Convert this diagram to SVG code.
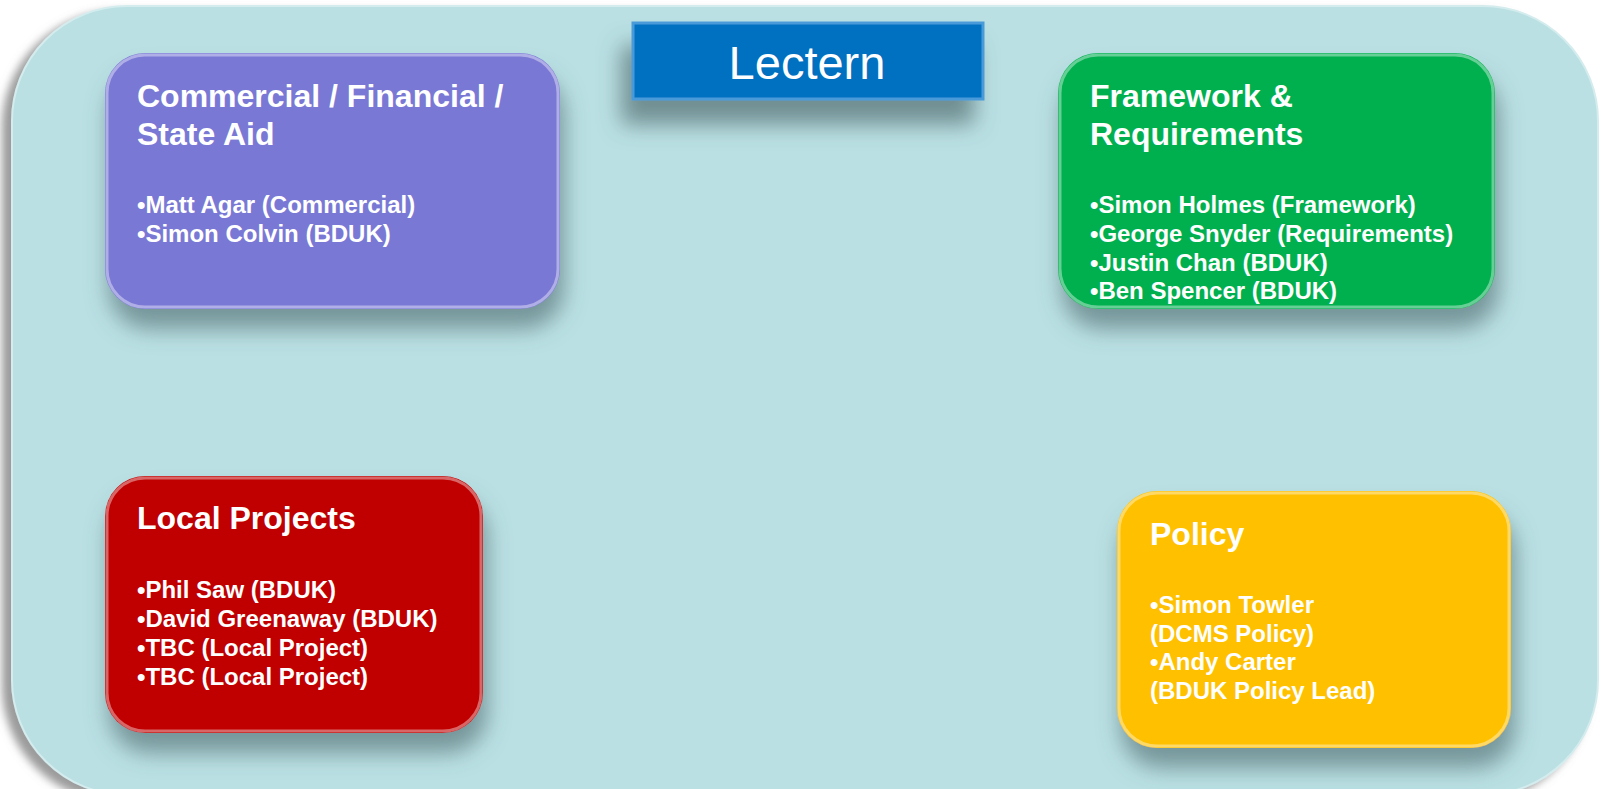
<svg xmlns="http://www.w3.org/2000/svg" width="1601" height="789" viewBox="0 0 1601 789">
<defs>
<style>
.t{font-family:"Liberation Sans",Arial,sans-serif;font-weight:bold;fill:#fff}
.h{font-size:32px}
.b{font-size:24px}
.edge{fill:none;stroke:#fff;stroke-opacity:.4;stroke-width:3}
</style>
<filter id="bgsh" x="-5%" y="-5%" width="110%" height="115%">
<feDropShadow dx="-9" dy="6" stdDeviation="4" flood-color="#8a8a8a" flood-opacity="0.85"/>
</filter>
<filter id="sh" x="-20%" y="-20%" width="145%" height="160%">
<feDropShadow dx="4" dy="20" stdDeviation="11" flood-color="#46656a" flood-opacity="0.6"/>
</filter>
<filter id="lsh" filterUnits="userSpaceOnUse" x="560" y="0" width="480" height="200">
<feDropShadow dx="-10" dy="24" stdDeviation="11" flood-color="#4a6468" flood-opacity="0.65"/>
</filter>
</defs>
<rect x="12" y="6" width="1586" height="789" rx="115" fill="#BAE0E3" stroke="#d4ecee" stroke-width="2" filter="url(#bgsh)"/>
<g id="connectors"/>
<g id="lectern">
<rect x="633" y="23" width="350" height="76" fill="#0070C0" stroke="#4a9ad8" stroke-width="3" filter="url(#lsh)"/>
<text x="807" y="79" text-anchor="middle" style="font-family:'Liberation Sans',Arial,sans-serif;font-size:47px;fill:#fff">Lectern</text>
</g>
<g id="commercial">
<rect x="105" y="53" width="455" height="256" rx="40" fill="#7A78D5" filter="url(#sh)"/>
<rect x="107" y="55" width="451" height="252" rx="38" class="edge"/>
<text class="t h" x="137" y="107">Commercial / Financial /</text>
<text class="t h" x="137" y="145">State Aid</text>
<text class="t b" x="137" y="213">•Matt Agar (Commercial)</text>
<text class="t b" x="137" y="242">•Simon Colvin (BDUK)</text>
</g>
<g id="framework">
<rect x="1058" y="53" width="437" height="256" rx="40" fill="#00B050" filter="url(#sh)"/>
<rect x="1060" y="55" width="433" height="252" rx="38" class="edge"/>
<text class="t h" x="1090" y="107">Framework &amp;</text>
<text class="t h" x="1090" y="145">Requirements</text>
<text class="t b" x="1090" y="213">•Simon Holmes (Framework)</text>
<text class="t b" x="1090" y="242">•George Snyder (Requirements)</text>
<text class="t b" x="1090" y="271">•Justin Chan (BDUK)</text>
<text class="t b" x="1090" y="299">•Ben Spencer (BDUK)</text>
</g>
<g id="local">
<rect x="105" y="476" width="378" height="257" rx="40" fill="#C00000" filter="url(#sh)"/>
<rect x="107" y="478" width="374" height="253" rx="38" class="edge"/>
<text class="t h" x="137" y="529">Local Projects</text>
<text class="t b" x="137" y="598">•Phil Saw (BDUK)</text>
<text class="t b" x="137" y="627">•David Greenaway (BDUK)</text>
<text class="t b" x="137" y="656">•TBC (Local Project)</text>
<text class="t b" x="137" y="685">•TBC (Local Project)</text>
</g>
<g id="policy">
<rect x="1117" y="491" width="394" height="257" rx="40" fill="#FFC000" filter="url(#sh)"/>
<rect x="1119" y="493" width="390" height="253" rx="38" class="edge"/>
<text class="t h" x="1150" y="545">Policy</text>
<text class="t b" x="1150" y="613">•Simon Towler</text>
<text class="t b" x="1150" y="642">(DCMS Policy)</text>
<text class="t b" x="1150" y="670">•Andy Carter</text>
<text class="t b" x="1150" y="699">(BDUK Policy Lead)</text>
</g>
</svg>
